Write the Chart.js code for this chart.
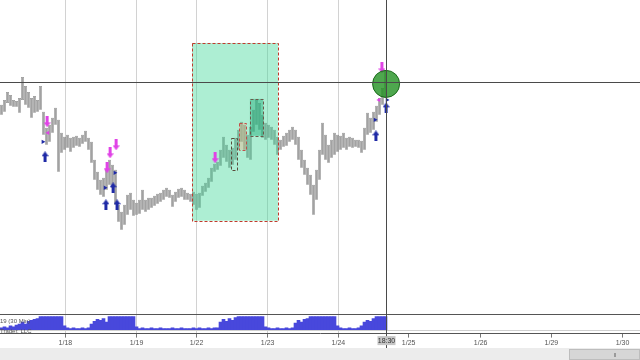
<!DOCTYPE html>
<html>
<head>
<meta charset="utf-8">
<script src="https://cdn.jsdelivr.net/npm/chart.js@4.4.1/dist/chart.umd.min.js"></script>
<style>
  html, body { margin: 0; padding: 0; background: #fff; }
  #wrap { width: 640px; height: 360px; }
</style>
</head>
<body>
<div id="wrap"><canvas id="chart"></canvas></div>
<script>
// hourly bars, index 0 = first bar on the left
const highs = [
  65.77, 65.82, 65.90, 65.87, 65.82, 65.81, 65.84, 66.05, 65.96, 65.90,
  65.84, 65.86, 65.82, 65.96, 65.70, 65.54, 65.57, 65.64, 65.74, 65.62,
  65.49, 65.45, 65.47, 65.44, 65.45, 65.46, 65.44, 65.47, 65.51, 65.44,
  65.40, 65.22, 65.10, 65.02, 65.04, 65.12, 65.22, 65.17, 65.12, 64.77,
  64.70, 64.77, 64.87, 64.89, 64.82, 64.79, 64.82, 64.92, 64.82, 64.84,
  64.84, 64.86, 64.88, 64.89, 64.92, 64.94, 64.92, 64.87, 64.90, 64.93,
  64.94, 64.92, 64.89, 64.88, 64.90, 64.88, 64.89, 64.96, 64.99, 65.04,
  65.14, 65.18, 65.20, 65.32, 65.45, 65.37, 65.32, 65.34, 65.44, 65.52,
  65.60, 65.57, 65.47, 65.55, 65.72, 65.82, 65.79, 65.67, 65.59, 65.57,
  65.55, 65.52, 65.45, 65.42, 65.46, 65.49, 65.52, 65.55, 65.52, 65.45,
  65.32, 65.22, 65.14, 65.07, 64.97, 65.12, 65.32, 65.59, 65.47, 65.37,
  65.42, 65.49, 65.47, 65.46, 65.49, 65.44, 65.45, 65.44, 65.42, 65.42,
  65.41, 65.54, 65.69, 65.64, 65.70, 65.76, 65.84, 65.94, 66.12
];
const lows = [
  65.67, 65.70, 65.79, 65.76, 65.75, 65.75, 65.69, 65.82, 65.77, 65.74,
  65.64, 65.69, 65.70, 65.72, 65.47, 65.37, 65.40, 65.49, 65.57, 65.10,
  65.29, 65.32, 65.34, 65.30, 65.34, 65.36, 65.35, 65.38, 65.40, 65.32,
  65.19, 65.02, 64.92, 64.87, 64.85, 64.92, 64.97, 64.94, 64.77, 64.60,
  64.52, 64.57, 64.67, 64.72, 64.66, 64.67, 64.68, 64.72, 64.70, 64.72,
  64.74, 64.76, 64.78, 64.80, 64.82, 64.85, 64.84, 64.75, 64.80, 64.84,
  64.85, 64.82, 64.82, 64.80, 64.77, 64.72, 64.74, 64.86, 64.90, 64.94,
  65.00, 65.10, 65.12, 65.16, 65.24, 65.20, 65.14, 65.17, 65.22, 65.32,
  65.40, 65.32, 65.24, 65.22, 65.50, 65.57, 65.52, 65.44, 65.42, 65.44,
  65.42, 65.37, 65.27, 65.32, 65.35, 65.36, 65.40, 65.42, 65.37, 65.22,
  65.14, 65.07, 64.97, 64.87, 64.67, 64.82, 65.02, 65.27, 65.22, 65.19,
  65.24, 65.27, 65.30, 65.32, 65.34, 65.32, 65.35, 65.34, 65.35, 65.34,
  65.29, 65.32, 65.47, 65.49, 65.52, 65.60, 65.67, 65.77, 65.84
];
const volumes = [
  2, 3, 2, 4, 3, 5, 6, 8, 6, 9,
  10, 11, 12, 14, 14, 14, 14, 14, 14, 14,
  14, 4, 2, 1, 2, 1, 1, 2, 1, 2,
  6, 9, 11, 10, 12, 8, 14, 14, 14, 14,
  14, 14, 14, 14, 14, 3, 1, 2, 1, 1,
  2, 1, 1, 2, 1, 1, 1, 2, 1, 1,
  2, 1, 1, 1, 2, 1, 2, 1, 1, 2,
  1, 2, 2, 8, 11, 9, 12, 10, 13, 14,
  14, 14, 14, 14, 14, 14, 14, 14, 3, 2,
  1, 1, 2, 1, 1, 2, 1, 2, 7, 10,
  8, 11, 12, 14, 14, 14, 14, 14, 14, 14,
  14, 14, 4, 2, 1, 1, 2, 1, 1, 2,
  4, 8, 10, 9, 12, 14, 14, 14, 14
];

const dayTicks = [21.3, 45, 65, 88.7, 112.3, 135.7, 159.7, 183.3, 207];
const dayLabels = ["1/18", "1/19", "1/22", "1/23", "1/24", "1/25", "1/26", "1/29", "1/30"];

// signal arrows: [bar index, price]
const buyArrows = [[14.5, 65.25], [37.2, 64.94], [34.8, 64.77], [38.5, 64.77], [124.8, 65.46], [128.2, 65.74]];
const sellArrows = [[15.2, 65.60], [38.2, 65.37], [36.2, 65.29], [35.2, 65.14], [71.2, 65.24], [126.8, 66.14]];
const buyMarks = [[13.8, 65.40], [34.5, 64.94], [37.8, 65.09], [124.5, 65.62], [128.5, 65.82]];
const sellMarks = [[15.5, 65.49], [125.8, 65.82]];

// drawn zone and the smaller boxes inside it: [start, end, high, low]
const zone = [63.5, 92.2, 66.39, 64.61];
const boxes = [[76.5, 78.5, 65.44, 65.12], [79.2, 81.5, 65.59, 65.32], [82.8, 87.2, 65.83, 65.46]];
const boxFills = ["rgba(0,0,0,0)", "rgba(255,170,130,0.35)", "rgba(30,170,120,0.45)"];
const boxLines = ["#5a4a3a", "#c0504a", "#6a5a4a"];

const crossX = 128.2;
const crossY = 66.00;
const crossLabel = "18:30";

function makeArrow(color, up) {
    const c = document.createElement("canvas");
    c.width = 7;
    c.height = 11;
    const g = c.getContext("2d");
    g.fillStyle = color;
    g.beginPath();
    if (up) {
        g.moveTo(3.5, 0); g.lineTo(7, 5); g.lineTo(5, 5); g.lineTo(5, 11);
        g.lineTo(2, 11); g.lineTo(2, 5); g.lineTo(0, 5);
    } else {
        g.moveTo(3.5, 11); g.lineTo(7, 6); g.lineTo(5, 6); g.lineTo(5, 0);
        g.lineTo(2, 0); g.lineTo(2, 6); g.lineTo(0, 6);
    }
    g.closePath();
    g.fill();
    return c;
}

const toPts = arr => arr.map(p => ({ x: p[0], y: p[1] }));
const FONT = "'Liberation Sans', Arial, sans-serif";

const decor = {
    id: "decor",
    beforeDraw(chart) {
        const { ctx, width, height } = chart;
        ctx.save();
        ctx.fillStyle = "#ffffff";
        ctx.fillRect(0, 0, width, height);
        ctx.fillStyle = "#ececec";
        ctx.fillRect(0, height - 12, width, 12);
        ctx.fillStyle = "#d6d6d6";
        ctx.fillRect(569, height - 11, width - 569, 11);
        ctx.strokeStyle = "#bdbdbd";
        ctx.strokeRect(569.5, height - 10.5, width - 570, 10);
        ctx.fillStyle = "#9a9a9a";
        ctx.fillRect(614, height - 7, 2, 4);
        ctx.restore();
    },
    afterDatasetDraw(chart, args) {
        if (args.index !== 0) return;
        const { ctx, scales } = chart;
        const x = scales.x, y = scales.y;
        ctx.save();
        const zx1 = x.getPixelForValue(zone[0]), zx2 = x.getPixelForValue(zone[1]);
        const zy1 = y.getPixelForValue(zone[2]), zy2 = y.getPixelForValue(zone[3]);
        ctx.fillStyle = "rgba(60,215,150,0.42)";
        ctx.fillRect(zx1, zy1, zx2 - zx1, zy2 - zy1);
        ctx.setLineDash([3, 2]);
        ctx.lineWidth = 1;
        ctx.strokeStyle = "#c0392b";
        ctx.strokeRect(Math.round(zx1) + 0.5, Math.round(zy1) + 0.5, Math.round(zx2 - zx1), Math.round(zy2 - zy1));
        boxes.forEach((b, i) => {
            const bx1 = x.getPixelForValue(b[0]), bx2 = x.getPixelForValue(b[1]);
            const by1 = y.getPixelForValue(b[2]), by2 = y.getPixelForValue(b[3]);
            ctx.fillStyle = boxFills[i];
            ctx.fillRect(bx1, by1, bx2 - bx1, by2 - by1);
            ctx.strokeStyle = boxLines[i];
            ctx.strokeRect(Math.round(bx1) + 0.5, Math.round(by1) + 0.5, Math.round(bx2 - bx1), Math.round(by2 - by1));
        });
        ctx.restore();
    },
    afterDraw(chart) {
        const { ctx, chartArea, scales, height } = chart;
        const x = scales.x, y = scales.y, yv = scales.yv;
        ctx.save();
        // volume panel frame
        const pTop = Math.round(yv.getPixelForValue(17.2)) + 0.5;
        const pBase = Math.round(yv.getPixelForValue(0)) + 0.5;
        ctx.lineWidth = 1;
        ctx.strokeStyle = "#cfcfcf";
        ctx.beginPath();
        ctx.moveTo(chartArea.left, pBase); ctx.lineTo(chartArea.right, pBase);
        ctx.stroke();
        ctx.strokeStyle = "#555";
        ctx.beginPath();
        ctx.moveTo(chartArea.left, pTop); ctx.lineTo(chartArea.right, pTop);
        ctx.stroke();
        ctx.fillStyle = "#555";
        ctx.font = "6px " + FONT;
        ctx.textBaseline = "middle";
        ctx.textAlign = "left";
        ctx.fillText("19 (30 Min)", 0, pTop + 7);
        ctx.fillText("Trader, LLC", 0, pBase + 1);
        // crosshair
        const cx = Math.round(x.getPixelForValue(crossX)) + 0.5;
        const cy = Math.round(y.getPixelForValue(crossY)) + 0.5;
        ctx.strokeStyle = "#4a4a4a";
        ctx.beginPath();
        ctx.moveTo(chartArea.left, cy); ctx.lineTo(chartArea.right, cy);
        ctx.moveTo(cx, 0); ctx.lineTo(cx, height - 12);
        ctx.stroke();
        const ly = chartArea.bottom + 7;
        ctx.fillStyle = "#c6c6c6";
        ctx.fillRect(cx - 9, ly - 4.5, 18, 9);
        ctx.fillStyle = "#333";
        ctx.font = "7px " + FONT;
        ctx.textAlign = "center";
        ctx.fillText(crossLabel, cx, ly);
        ctx.restore();
    }
};

new Chart(document.getElementById("chart"), {
    type: "bar",
    data: {
        datasets: [
            {
                label: "Price",
                data: highs.map((h, i) => ({ x: i, y: [lows[i], h] })),
                yAxisID: "y",
                backgroundColor: "#a2a2a2",
                borderColor: "#5e5e5e",
                borderWidth: 0.5,
                borderSkipped: false,
                barPercentage: 0.9,
                categoryPercentage: 1,
                grouped: false,
                order: 4
            },
            {
                label: "Volume",
                data: volumes.map((v, i) => ({ x: i, y: v })),
                yAxisID: "yv",
                backgroundColor: "#4848dc",
                borderWidth: 0,
                barPercentage: 1,
                categoryPercentage: 1,
                grouped: false,
                order: 5
            },
            {
                type: "scatter",
                data: toPts(buyArrows),
                yAxisID: "y",
                pointStyle: makeArrow("#1f2aa6", true),
                order: 2
            },
            {
                type: "scatter",
                data: toPts(sellArrows),
                yAxisID: "y",
                pointStyle: makeArrow("#e043e6", false),
                order: 2
            },
            {
                type: "scatter",
                data: toPts(buyMarks),
                yAxisID: "y",
                pointStyle: "triangle",
                rotation: 90,
                pointRadius: 2.5,
                backgroundColor: "#1f2aa6",
                borderWidth: 0,
                order: 2
            },
            {
                type: "scatter",
                data: toPts(sellMarks),
                yAxisID: "y",
                pointStyle: "triangle",
                rotation: -90,
                pointRadius: 2.5,
                backgroundColor: "#e043e6",
                borderWidth: 0,
                order: 2
            },
            {
                type: "scatter",
                data: [{ x: crossX, y: crossY - 0.02 }],
                yAxisID: "y",
                pointRadius: 13.5,
                backgroundColor: "rgba(34,145,34,0.8)",
                borderColor: "#1b6a1b",
                borderWidth: 1,
                order: 1
            }
        ]
    },
    options: {
        responsive: true,
        maintainAspectRatio: false,
        animation: false,
        events: [],
        layout: { autoPadding: false, padding: { left: 0, right: 0, top: 0, bottom: 12 } },
        plugins: {
            legend: { display: false },
            tooltip: { enabled: false }
        },
        scales: {
            x: {
                type: "linear",
                min: -0.5,
                max: 212.83,
                offset: false,
                afterBuildTicks: axis => { axis.ticks = dayTicks.map(v => ({ value: v })); },
                ticks: {
                    autoSkip: false,
                    maxRotation: 0,
                    padding: 1,
                    color: "#555",
                    font: { size: 7, family: FONT },
                    callback: (v, i) => dayLabels[i]
                },
                grid: {
                    offset: false,
                    color: c => (c.tick && c.tick.value > crossX ? "rgba(0,0,0,0)" : "#d2d2d2"),
                    tickColor: "#777",
                    tickLength: 4
                },
                border: { display: true, color: "#555" }
            },
            y: {
                display: false,
                min: 63.48,
                max: 66.82
            },
            yv: {
                display: false,
                min: -4.3,
                max: 355.4
            }
        }
    },
    plugins: [decor]
});
</script>
</body>
</html>
